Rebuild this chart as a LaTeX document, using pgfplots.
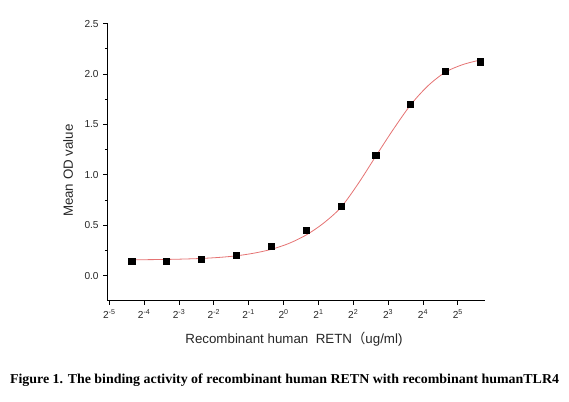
\documentclass[border=0pt]{standalone}
\usepackage{fontspec}
\setmainfont{Liberation Sans}
\newfontfamily\capfont{Liberation Serif}
\newfontfamily\cjk{Noto Sans CJK SC}
\usepackage{pgfplots}
\pgfplotsset{compat=1.18}
\definecolor{fitred}{HTML}{E57373}

\begin{document}
\begin{tikzpicture}
\begin{axis}[
  at={(80.5pt,75.2pt)}, anchor=south west,
  scale only axis, width=283.3pt, height=208.5pt,
  xmode=log, log basis x=2,
  xmin=0.0300, xmax=54.9,
  ymin=-0.25, ymax=2.51,
  axis x line*=bottom, axis y line*=left,
  axis line style={-, line width=0.75pt},
  tick style={black, line width=0.75pt},
  tick align=outside,
  major tick length=3pt, minor tick length=1.8pt,
  xtick={0.03125,0.0625,0.125,0.25,0.5,1,2,4,8,16,32},
  xticklabels={2\textsuperscript{-5},2\textsuperscript{-4},2\textsuperscript{-3},2\textsuperscript{-2},2\textsuperscript{-1},2\textsuperscript{0},2\textsuperscript{1},2\textsuperscript{2},2\textsuperscript{3},2\textsuperscript{4},2\textsuperscript{5}},
  xminorticks=false,
  ytick={0,0.5,1,1.5,2,2.5},
  minor y tick num=1,
  ticklabel style={font=\fontsize{7.6}{9}\selectfont, text=black!85},
  yticklabel style={/pgf/number format/fixed, /pgf/number format/fixed zerofill,
    /pgf/number format/precision=1, /pgf/number format/assume math mode=true},
  xlabel={Recombinant human\ \ RETN{\cjk （}ug/ml)},
  ylabel={Mean OD value},
  label style={font=\fontsize{10}{12}\selectfont, text=black!85},
  xlabel style={at={(axis description cs:0.494,-0.138)}, anchor=center},
  ylabel style={at={(axis description cs:-0.104,0.468)}, anchor=center},
  clip=false,
]
% fitted curve
\addplot[fitred, line width=0.6pt, smooth] coordinates {
  (0.048828,0.157) (0.069053,0.158) (0.097656,0.160) (0.138107,0.164)
  (0.195313,0.170) (0.276214,0.180) (0.390625,0.196) (0.552427,0.222)
  (0.78125,0.260) (1.104854,0.318) (1.5625,0.402) (2.209709,0.520)
  (3.125,0.677) (4.419417,0.915) (6.25,1.185) (8.838835,1.450)
  (12.5,1.695) (17.67767,1.885) (25,2.020) (35.35534,2.095) (50,2.140)
};
% measured points
\addplot[only marks, mark=square*, mark size=2.3pt, black] coordinates {
  (0.048828,0.142) (0.097656,0.142) (0.195313,0.166) (0.390625,0.200)
  (0.78125,0.290) (1.5625,0.450) (3.125,0.690) (6.25,1.193)
  (12.5,1.700) (25,2.030) (50,2.122)
};
\end{axis}
\node at (213.4pt,15.75pt) {\resizebox{411.75pt}{\height}{\capfont\bfseries\fontsize{10.2}{12}\selectfont Figure 1. The binding activity of recombinant human RETN with recombinant humanTLR4}};
\pgfresetboundingbox
\path[use as bounding box] (0,0) rectangle (426.75pt,300.75pt);
\end{tikzpicture}
\end{document}
